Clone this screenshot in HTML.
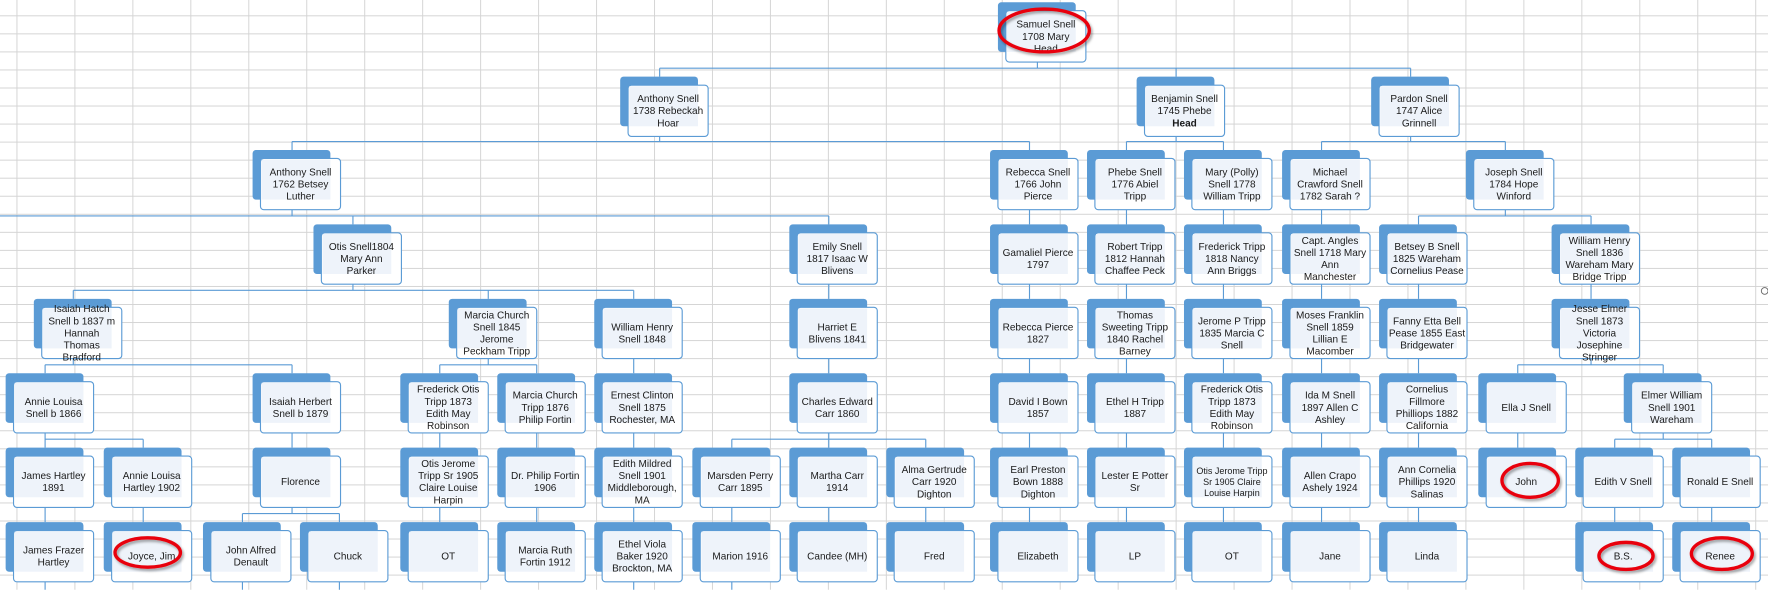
<!DOCTYPE html>
<html><head><meta charset="utf-8"><style>
html,body{margin:0;padding:0;background:#fff;overflow:hidden}
svg{display:block}
text{font-family:"Liberation Sans",sans-serif;font-size:8.9px;fill:#1a1a1a;text-anchor:middle}
</style></head><body>
<svg width="1768" height="590" viewBox="0 0 1768 590" xmlns="http://www.w3.org/2000/svg">
<defs>
<pattern id="grid" patternUnits="userSpaceOnUse" x="14.6" y="13.6" width="51.4" height="16">
<path d="M0.4 0V16M0 0.4H51.4" stroke="#d4d4d4" stroke-width="0.9" fill="none"/>
</pattern>
<g id="n">
<rect x="0" y="0" width="69" height="44" rx="3" fill="#5b9bd5"/>
<rect x="7" y="7.5" width="71" height="45.5" rx="3" fill="#fff" stroke="#5b9bd5" stroke-width="1"/>
<rect x="8" y="8.5" width="61" height="35.5" fill="#eef3fa"/>
</g>
<filter id="sh" x="-20%" y="-20%" width="140%" height="160%"><feDropShadow dx="1.5" dy="2" stdDeviation="1.2" flood-color="#000" flood-opacity="0.35"/></filter>
</defs>
<g transform="scale(1.1276)">
<rect width="1568" height="523" fill="url(#grid)"/>
<path fill="none" stroke="#5b9bd5" stroke-width="1" d="
M920 55V60.5 M585 60.5H1251 M585 60.5V68 M1043 60.5V68 M1251 60.5V68
M585 121V125.5 M259 125.5H913 M259 125.5V133 M913 125.5V133
M1043 121V125.5 M999 125.5H1085 M999 125.5V133 M1085 125.5V133
M1251 121V125.5 M1172 125.5H1335 M1172 125.5V133 M1335 125.5V133
M259 186V191.5 M0 191.5H735 M313 191.5V199 M735 191.5V199
M913 186V199 M999 186V199 M1085 186V199 M1172 186V199
M1335 186V191.5 M1258 191.5H1411 M1258 191.5V199 M1411 191.5V199
M313 252V257.5 M65 257.5H562 M65 257.5V265 M433 257.5V265 M562 257.5V265
M735 252V265 M913 252V265 M999 252V265 M1085 252V265 M1172 252V265 M1258 252V265 M1411 252V265
M65 318V323.5 M40 323.5H259 M40 323.5V331 M259 323.5V331
M433 318V323.5 M390 323.5H476 M390 323.5V331 M476 323.5V331
M562 318V331 M735 318V331 M913 318V331 M999 318V331 M1085 318V331 M1172 318V331 M1258 318V331
M1411 318V323.5 M1346 323.5H1475 M1346 323.5V331 M1475 323.5V331
M40 384V389.5H127 M127 389.5V397 M40 389.5V397
M259 384V397 M390 384V397 M476 384V397 M562 384V397
M735 384V389.5 M649 389.5H821 M649 389.5V397 M735 389.5V397 M821 389.5V397
M913 384V397 M999 384V397 M1085 384V397 M1172 384V397 M1258 384V397 M1346 384V397
M1475 384V389.5 M1432 389.5H1518 M1432 389.5V397 M1518 389.5V397
M40 450V463 M127 450V463 M259 450V455.5 M215 455.5H301 M215 455.5V463 M301 455.5V463
M390 450V463 M476 450V463 M562 450V463 M649 450V463 M735 450V463 M821 450V463 M913 450V463 M999 450V463 M1085 450V463 M1172 450V463 M1258 450V463 M1432 450V463 M1518 450V463
M40 516V523 M215 516V523 M301 516V523 M562 516V523 M649 516V523"/>

<g transform="translate(885,2)"><use href="#n"/><text y="22.6"><tspan x="42.5">Samuel Snell</tspan><tspan x="42.5" dy="10.7">1708 Mary</tspan><tspan x="42.5" dy="10.7">Head</tspan></text></g>

<g transform="translate(550,68)"><use href="#n"/><text y="22.6"><tspan x="42.5">Anthony Snell</tspan><tspan x="42.5" dy="10.7">1738 Rebeckah</tspan><tspan x="42.5" dy="10.7">Hoar</tspan></text></g>
<g transform="translate(1008,68)"><use href="#n"/><text y="22.6"><tspan x="42.5">Benjamin Snell</tspan><tspan x="42.5" dy="10.7">1745 Phebe</tspan><tspan x="42.5" dy="10.7" font-weight="bold">Head</tspan></text></g>
<g transform="translate(1216,68)"><use href="#n"/><text y="22.6"><tspan x="42.5">Pardon Snell</tspan><tspan x="42.5" dy="10.7">1747 Alice</tspan><tspan x="42.5" dy="10.7">Grinnell</tspan></text></g>

<g transform="translate(224,133)"><use href="#n"/><text y="22.6"><tspan x="42.5">Anthony Snell</tspan><tspan x="42.5" dy="10.7">1762 Betsey</tspan><tspan x="42.5" dy="10.7">Luther</tspan></text></g>
<g transform="translate(878,133)"><use href="#n"/><text y="22.6"><tspan x="42.5">Rebecca Snell</tspan><tspan x="42.5" dy="10.7">1766 John</tspan><tspan x="42.5" dy="10.7">Pierce</tspan></text></g>
<g transform="translate(964,133)"><use href="#n"/><text y="22.6"><tspan x="42.5">Phebe Snell</tspan><tspan x="42.5" dy="10.7">1776 Abiel</tspan><tspan x="42.5" dy="10.7">Tripp</tspan></text></g>
<g transform="translate(1050,133)"><use href="#n"/><text y="22.6"><tspan x="42.5">Mary (Polly)</tspan><tspan x="42.5" dy="10.7">Snell 1778</tspan><tspan x="42.5" dy="10.7">William Tripp</tspan></text></g>
<g transform="translate(1137,133)"><use href="#n"/><text y="22.6"><tspan x="42.5">Michael</tspan><tspan x="42.5" dy="10.7">Crawford Snell</tspan><tspan x="42.5" dy="10.7">1782 Sarah ?</tspan></text></g>
<g transform="translate(1300,133)"><use href="#n"/><text y="22.6"><tspan x="42.5">Joseph Snell</tspan><tspan x="42.5" dy="10.7">1784 Hope</tspan><tspan x="42.5" dy="10.7">Winford</tspan></text></g>

<g transform="translate(278,199)"><use href="#n"/><text y="22.6"><tspan x="42.5">Otis Snell1804</tspan><tspan x="42.5" dy="10.7">Mary Ann</tspan><tspan x="42.5" dy="10.7">Parker</tspan></text></g>
<g transform="translate(700,199)"><use href="#n"/><text y="22.6"><tspan x="42.5">Emily Snell</tspan><tspan x="42.5" dy="10.7">1817 Isaac W</tspan><tspan x="42.5" dy="10.7">Blivens</tspan></text></g>
<g transform="translate(878,199)"><use href="#n"/><text y="27.95"><tspan x="42.5">Gamaliel Pierce</tspan><tspan x="42.5" dy="10.7">1797</tspan></text></g>
<g transform="translate(964,199)"><use href="#n"/><text y="22.6"><tspan x="42.5">Robert Tripp</tspan><tspan x="42.5" dy="10.7">1812 Hannah</tspan><tspan x="42.5" dy="10.7">Chaffee Peck</tspan></text></g>
<g transform="translate(1050,199)"><use href="#n"/><text y="22.6"><tspan x="42.5">Frederick Tripp</tspan><tspan x="42.5" dy="10.7">1818 Nancy</tspan><tspan x="42.5" dy="10.7">Ann Briggs</tspan></text></g>
<g transform="translate(1137,199)"><use href="#n"/><text y="17.25"><tspan x="42.5">Capt. Angles</tspan><tspan x="42.5" dy="10.7">Snell 1718 Mary</tspan><tspan x="42.5" dy="10.7">Ann</tspan><tspan x="42.5" dy="10.7">Manchester</tspan></text></g>
<g transform="translate(1223,199)"><use href="#n"/><text y="22.6"><tspan x="42.5">Betsey B Snell</tspan><tspan x="42.5" dy="10.7">1825 Wareham</tspan><tspan x="42.5" dy="10.7">Cornelius Pease</tspan></text></g>
<g transform="translate(1376,199)"><use href="#n"/><text y="17.25"><tspan x="42.5">William Henry</tspan><tspan x="42.5" dy="10.7">Snell 1836</tspan><tspan x="42.5" dy="10.7">Wareham Mary</tspan><tspan x="42.5" dy="10.7">Bridge Tripp</tspan></text></g>

<g transform="translate(30,265)"><use href="#n"/><text y="11.9"><tspan x="42.5">Isaiah Hatch</tspan><tspan x="42.5" dy="10.7">Snell b 1837 m</tspan><tspan x="42.5" dy="10.7">Hannah</tspan><tspan x="42.5" dy="10.7">Thomas</tspan><tspan x="42.5" dy="10.7">Bradford</tspan></text></g>
<g transform="translate(398,265)"><use href="#n"/><text y="17.25"><tspan x="42.5">Marcia Church</tspan><tspan x="42.5" dy="10.7">Snell 1845</tspan><tspan x="42.5" dy="10.7">Jerome</tspan><tspan x="42.5" dy="10.7">Peckham Tripp</tspan></text></g>
<g transform="translate(527,265)"><use href="#n"/><text y="27.95"><tspan x="42.5">William Henry</tspan><tspan x="42.5" dy="10.7">Snell 1848</tspan></text></g>
<g transform="translate(700,265)"><use href="#n"/><text y="27.95"><tspan x="42.5">Harriet E</tspan><tspan x="42.5" dy="10.7">Blivens 1841</tspan></text></g>
<g transform="translate(878,265)"><use href="#n"/><text y="27.95"><tspan x="42.5">Rebecca Pierce</tspan><tspan x="42.5" dy="10.7">1827</tspan></text></g>
<g transform="translate(964,265)"><use href="#n"/><text y="17.25"><tspan x="42.5">Thomas</tspan><tspan x="42.5" dy="10.7">Sweeting  Tripp</tspan><tspan x="42.5" dy="10.7">1840 Rachel</tspan><tspan x="42.5" dy="10.7">Barney</tspan></text></g>
<g transform="translate(1050,265)"><use href="#n"/><text y="22.6"><tspan x="42.5">Jerome P Tripp</tspan><tspan x="42.5" dy="10.7">1835 Marcia C</tspan><tspan x="42.5" dy="10.7">Snell</tspan></text></g>
<g transform="translate(1137,265)"><use href="#n"/><text y="17.25"><tspan x="42.5">Moses Franklin</tspan><tspan x="42.5" dy="10.7">Snell 1859</tspan><tspan x="42.5" dy="10.7">Lillian E</tspan><tspan x="42.5" dy="10.7">Macomber</tspan></text></g>
<g transform="translate(1223,265)"><use href="#n"/><text y="22.6"><tspan x="42.5">Fanny Etta Bell</tspan><tspan x="42.5" dy="10.7">Pease 1855 East</tspan><tspan x="42.5" dy="10.7">Bridgewater</tspan></text></g>
<g transform="translate(1376,265)"><use href="#n"/><text y="11.9"><tspan x="42.5">Jesse Elmer</tspan><tspan x="42.5" dy="10.7">Snell 1873</tspan><tspan x="42.5" dy="10.7">Victoria</tspan><tspan x="42.5" dy="10.7">Josephine</tspan><tspan x="42.5" dy="10.7">Stringer</tspan></text></g>

<g transform="translate(5,331)"><use href="#n"/><text y="27.95"><tspan x="42.5">Annie Louisa</tspan><tspan x="42.5" dy="10.7">Snell b 1866</tspan></text></g>
<g transform="translate(224,331)"><use href="#n"/><text y="27.95"><tspan x="42.5">Isaiah Herbert</tspan><tspan x="42.5" dy="10.7">Snell b 1879</tspan></text></g>
<g transform="translate(355,331)"><use href="#n"/><text y="17.25"><tspan x="42.5">Frederick Otis</tspan><tspan x="42.5" dy="10.7">Tripp 1873</tspan><tspan x="42.5" dy="10.7">Edith May</tspan><tspan x="42.5" dy="10.7">Robinson</tspan></text></g>
<g transform="translate(441,331)"><use href="#n"/><text y="22.6"><tspan x="42.5">Marcia Church</tspan><tspan x="42.5" dy="10.7">Tripp 1876</tspan><tspan x="42.5" dy="10.7">Philip Fortin</tspan></text></g>
<g transform="translate(527,331)"><use href="#n"/><text y="22.6"><tspan x="42.5">Ernest Clinton</tspan><tspan x="42.5" dy="10.7">Snell 1875</tspan><tspan x="42.5" dy="10.7">Rochester, MA</tspan></text></g>
<g transform="translate(700,331)"><use href="#n"/><text y="27.95"><tspan x="42.5">Charles Edward</tspan><tspan x="42.5" dy="10.7">Carr 1860</tspan></text></g>
<g transform="translate(878,331)"><use href="#n"/><text y="27.95"><tspan x="42.5">David I Bown</tspan><tspan x="42.5" dy="10.7">1857</tspan></text></g>
<g transform="translate(964,331)"><use href="#n"/><text y="27.95"><tspan x="42.5">Ethel H Tripp</tspan><tspan x="42.5" dy="10.7">1887</tspan></text></g>
<g transform="translate(1050,331)"><use href="#n"/><text y="17.25"><tspan x="42.5">Frederick Otis</tspan><tspan x="42.5" dy="10.7">Tripp 1873</tspan><tspan x="42.5" dy="10.7">Edith May</tspan><tspan x="42.5" dy="10.7">Robinson</tspan></text></g>
<g transform="translate(1137,331)"><use href="#n"/><text y="22.6"><tspan x="42.5">Ida M Snell</tspan><tspan x="42.5" dy="10.7">1897 Allen C</tspan><tspan x="42.5" dy="10.7">Ashley</tspan></text></g>
<g transform="translate(1223,331)"><use href="#n"/><text y="17.25"><tspan x="42.5">Cornelius</tspan><tspan x="42.5" dy="10.7">Fillmore</tspan><tspan x="42.5" dy="10.7">Philliops 1882</tspan><tspan x="42.5" dy="10.7">California</tspan></text></g>
<g transform="translate(1311,331)"><use href="#n"/><text y="33.3"><tspan x="42.5">Ella J Snell</tspan></text></g>
<g transform="translate(1440,331)"><use href="#n"/><text y="22.6"><tspan x="42.5">Elmer William</tspan><tspan x="42.5" dy="10.7">Snell 1901</tspan><tspan x="42.5" dy="10.7">Wareham</tspan></text></g>

<g transform="translate(5,397)"><use href="#n"/><text y="27.95"><tspan x="42.5">James Hartley</tspan><tspan x="42.5" dy="10.7">1891</tspan></text></g>
<g transform="translate(92,397)"><use href="#n"/><text y="27.95"><tspan x="42.5">Annie Louisa</tspan><tspan x="42.5" dy="10.7">Hartley 1902</tspan></text></g>
<g transform="translate(224,397)"><use href="#n"/><text y="33.3"><tspan x="42.5">Florence</tspan></text></g>
<g transform="translate(355,397)"><use href="#n"/><text y="17.25"><tspan x="42.5">Otis Jerome</tspan><tspan x="42.5" dy="10.7">Tripp Sr 1905</tspan><tspan x="42.5" dy="10.7">Claire Louise</tspan><tspan x="42.5" dy="10.7">Harpin</tspan></text></g>
<g transform="translate(441,397)"><use href="#n"/><text y="27.95"><tspan x="42.5">Dr. Philip Fortin</tspan><tspan x="42.5" dy="10.7">1906</tspan></text></g>
<g transform="translate(527,397)"><use href="#n"/><text y="17.25"><tspan x="42.5">Edith Mildred</tspan><tspan x="42.5" dy="10.7">Snell 1901</tspan><tspan x="42.5" dy="10.7">Middleborough,</tspan><tspan x="42.5" dy="10.7">MA</tspan></text></g>
<g transform="translate(614,397)"><use href="#n"/><text y="27.95"><tspan x="42.5">Marsden Perry</tspan><tspan x="42.5" dy="10.7">Carr 1895</tspan></text></g>
<g transform="translate(700,397)"><use href="#n"/><text y="27.95"><tspan x="42.5">Martha Carr</tspan><tspan x="42.5" dy="10.7">1914</tspan></text></g>
<g transform="translate(786,397)"><use href="#n"/><text y="22.6"><tspan x="42.5">Alma Gertrude</tspan><tspan x="42.5" dy="10.7">Carr 1920</tspan><tspan x="42.5" dy="10.7">Dighton</tspan></text></g>
<g transform="translate(878,397)"><use href="#n"/><text y="22.6"><tspan x="42.5">Earl Preston</tspan><tspan x="42.5" dy="10.7">Bown 1888</tspan><tspan x="42.5" dy="10.7">Dighton</tspan></text></g>
<g transform="translate(964,397)"><use href="#n"/><text y="27.95"><tspan x="42.5">Lester E Potter</tspan><tspan x="42.5" dy="10.7">Sr</tspan></text></g>
<g transform="translate(1050,397)"><use href="#n"/><text y="23.5" style="font-size:8px"><tspan x="42.5">Otis Jerome Tripp</tspan><tspan x="42.5" dy="9.6">Sr 1905 Claire</tspan><tspan x="42.5" dy="9.6">Louise Harpin</tspan></text></g>
<g transform="translate(1137,397)"><use href="#n"/><text y="27.95"><tspan x="42.5">Allen Crapo</tspan><tspan x="42.5" dy="10.7">Ashely 1924</tspan></text></g>
<g transform="translate(1223,397)"><use href="#n"/><text y="22.6"><tspan x="42.5">Ann Cornelia</tspan><tspan x="42.5" dy="10.7">Phillips 1920</tspan><tspan x="42.5" dy="10.7">Salinas</tspan></text></g>
<g transform="translate(1311,397)"><use href="#n"/><text y="33.3"><tspan x="42.5">John</tspan></text></g>
<g transform="translate(1397,397)"><use href="#n"/><text y="33.3"><tspan x="42.5">Edith V Snell</tspan></text></g>
<g transform="translate(1483,397)"><use href="#n"/><text y="33.3"><tspan x="42.5">Ronald E Snell</tspan></text></g>

<g transform="translate(5,463)"><use href="#n"/><text y="27.95"><tspan x="42.5">James Frazer</tspan><tspan x="42.5" dy="10.7">Hartley</tspan></text></g>
<g transform="translate(92,463)"><use href="#n"/><text y="33.3"><tspan x="42.5">Joyce, Jim</tspan></text></g>
<g transform="translate(180,463)"><use href="#n"/><text y="27.95"><tspan x="42.5">John Alfred</tspan><tspan x="42.5" dy="10.7">Denault</tspan></text></g>
<g transform="translate(266,463)"><use href="#n"/><text y="33.3"><tspan x="42.5">Chuck</tspan></text></g>
<g transform="translate(355,463)"><use href="#n"/><text y="33.3"><tspan x="42.5">OT</tspan></text></g>
<g transform="translate(441,463)"><use href="#n"/><text y="27.95"><tspan x="42.5">Marcia Ruth</tspan><tspan x="42.5" dy="10.7">Fortin 1912</tspan></text></g>
<g transform="translate(527,463)"><use href="#n"/><text y="22.6"><tspan x="42.5">Ethel Viola</tspan><tspan x="42.5" dy="10.7">Baker 1920</tspan><tspan x="42.5" dy="10.7">Brockton, MA</tspan></text></g>
<g transform="translate(614,463)"><use href="#n"/><text y="33.3"><tspan x="42.5">Marion 1916</tspan></text></g>
<g transform="translate(700,463)"><use href="#n"/><text y="33.3"><tspan x="42.5">Candee (MH)</tspan></text></g>
<g transform="translate(786,463)"><use href="#n"/><text y="33.3"><tspan x="42.5">Fred</tspan></text></g>
<g transform="translate(878,463)"><use href="#n"/><text y="33.3"><tspan x="42.5">Elizabeth</tspan></text></g>
<g transform="translate(964,463)"><use href="#n"/><text y="33.3"><tspan x="42.5">LP</tspan></text></g>
<g transform="translate(1050,463)"><use href="#n"/><text y="33.3"><tspan x="42.5">OT</tspan></text></g>
<g transform="translate(1137,463)"><use href="#n"/><text y="33.3"><tspan x="42.5">Jane</tspan></text></g>
<g transform="translate(1223,463)"><use href="#n"/><text y="33.3"><tspan x="42.5">Linda</tspan></text></g>
<g transform="translate(1397,463)"><use href="#n"/><text y="33.3"><tspan x="42.5">B.S.</tspan></text></g>
<g transform="translate(1483,463)"><use href="#n"/><text y="33.3"><tspan x="42.5">Renee</tspan></text></g>

<g fill="none" stroke="#e8000a" stroke-width="3" filter="url(#sh)">
<ellipse cx="926" cy="27" rx="40" ry="19"/>
<ellipse cx="131" cy="490" rx="29" ry="13"/>
<ellipse cx="1357" cy="426" rx="25" ry="15"/>
<ellipse cx="1442" cy="493" rx="24" ry="12"/>
<ellipse cx="1527" cy="491" rx="27" ry="14"/>
</g>
<circle cx="1565" cy="258" r="3" fill="#fff" stroke="#666" stroke-width="0.8"/>
</g>
</svg>
</body></html>
